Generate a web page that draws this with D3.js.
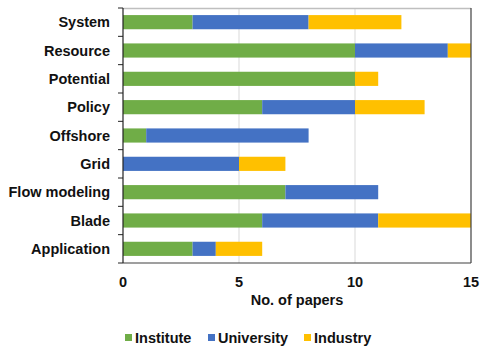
<!DOCTYPE html>
<html>
<head>
<meta charset="utf-8">
<script src="https://cdn.jsdelivr.net/npm/d3@7"></script>
<style>
  body { margin: 0; background: #fff; }
  text { font-family: "Liberation Sans", Arial, sans-serif; font-weight: bold; fill: #111; }
</style>
</head>
<body>
<svg id="chart" width="491" height="354"></svg>
<script>
// dados
const categories = ["System", "Resource", "Potential", "Policy", "Offshore", "Grid", "Flow modeling", "Blade", "Application"];
const institute  = [3, 10, 10, 6, 1, 0, 7, 6, 3];
const university = [5, 4, 0, 4, 7, 5, 4, 5, 1];
const industry   = [4, 1, 1, 3, 0, 2, 0, 4, 2];
const seriesNames = ["Institute", "University", "Industry"];
const colors = ["#70AD47", "#4472C4", "#FFC000"];
const xTicks = [0, 5, 10, 15];

const svg = d3.select("#chart");
const margin = { top: 8, right: 20, bottom: 91, left: 123 };
const width = +svg.attr("width") - margin.left - margin.right;
const height = +svg.attr("height") - margin.top - margin.bottom;
const fs = "14.5px";

const rows = categories.map((c, i) => ({ cat: c, Institute: institute[i], University: university[i], Industry: industry[i] }));
const stacked = d3.stack().keys(seriesNames)(rows);

const x = d3.scaleLinear().domain([0, 15]).range([0, width]);
const y = d3.scaleBand().domain(categories).range([0, height]).paddingInner(0.5).paddingOuter(0.25);
const yb = d3.scaleBand().domain(categories).range([0, height]);

const g = svg.append("g").attr("transform", `translate(${margin.left},${margin.top})`);

// linhas de grade
g.selectAll("line.grid").data(xTicks.slice(1, -1)).join("line")
  .attr("x1", d => x(d)).attr("x2", d => x(d))
  .attr("y1", 0).attr("y2", height)
  .attr("stroke", "#d9d9d9").attr("stroke-width", 1);

// barras empilhadas
stacked.forEach((s, k) => {
  g.append("g").attr("fill", colors[k])
    .selectAll("rect").data(s).join("rect")
    .attr("x", d => x(d[0]))
    .attr("width", d => x(d[1]) - x(d[0]))
    .attr("y", d => y(d.data.cat))
    .attr("height", y.bandwidth());
});

// moldura
g.append("line").attr("x1", 0).attr("x2", width).attr("y1", 0.5).attr("y2", 0.5)
  .attr("stroke", "#bfbfbf").attr("stroke-width", 1.5);
g.append("line").attr("x1", width).attr("x2", width).attr("y1", 0).attr("y2", height)
  .attr("stroke", "#404040").attr("stroke-width", 1.2);
g.append("line").attr("x1", 0).attr("x2", width).attr("y1", height).attr("y2", height)
  .attr("stroke", "#404040").attr("stroke-width", 1.2);
g.append("line").attr("x1", 0).attr("x2", 0).attr("y1", 0).attr("y2", height)
  .attr("stroke", "#222").attr("stroke-width", 1.2);

// marcas do eixo y nos limites das categorias
g.selectAll("line.ytick").data(d3.range(categories.length + 1)).join("line")
  .attr("x1", -5).attr("x2", 0)
  .attr("y1", d => d * yb.step()).attr("y2", d => d * yb.step())
  .attr("stroke", "#222").attr("stroke-width", 1);

// rótulos das categorias
g.selectAll("text.cat").data(categories).join("text")
  .attr("x", -13)
  .attr("y", d => y(d) + y.bandwidth() / 2)
  .attr("dy", "0.35em")
  .attr("text-anchor", "end")
  .style("font-size", fs)
  .text(d => d);

// rótulos do eixo x
g.selectAll("text.xt").data(xTicks).join("text")
  .attr("x", d => x(d))
  .attr("y", height + 24)
  .attr("text-anchor", "middle")
  .style("font-size", fs)
  .text(d => d);

g.append("text")
  .attr("x", width / 2)
  .attr("y", height + 42)
  .attr("text-anchor", "middle")
  .style("font-size", fs)
  .text("No. of papers");

// legenda
const legendX = [125, 208, 304];
const lg = svg.append("g").attr("transform", "translate(0,338)");
seriesNames.forEach((n, k) => {
  lg.append("rect").attr("x", legendX[k]).attr("y", -4).attr("width", 7).attr("height", 7).attr("fill", colors[k]);
  lg.append("text").attr("x", legendX[k] + 10).attr("y", 0).attr("dy", "0.35em")
    .style("font-size", fs).text(n);
});
</script>
</body>
</html>
